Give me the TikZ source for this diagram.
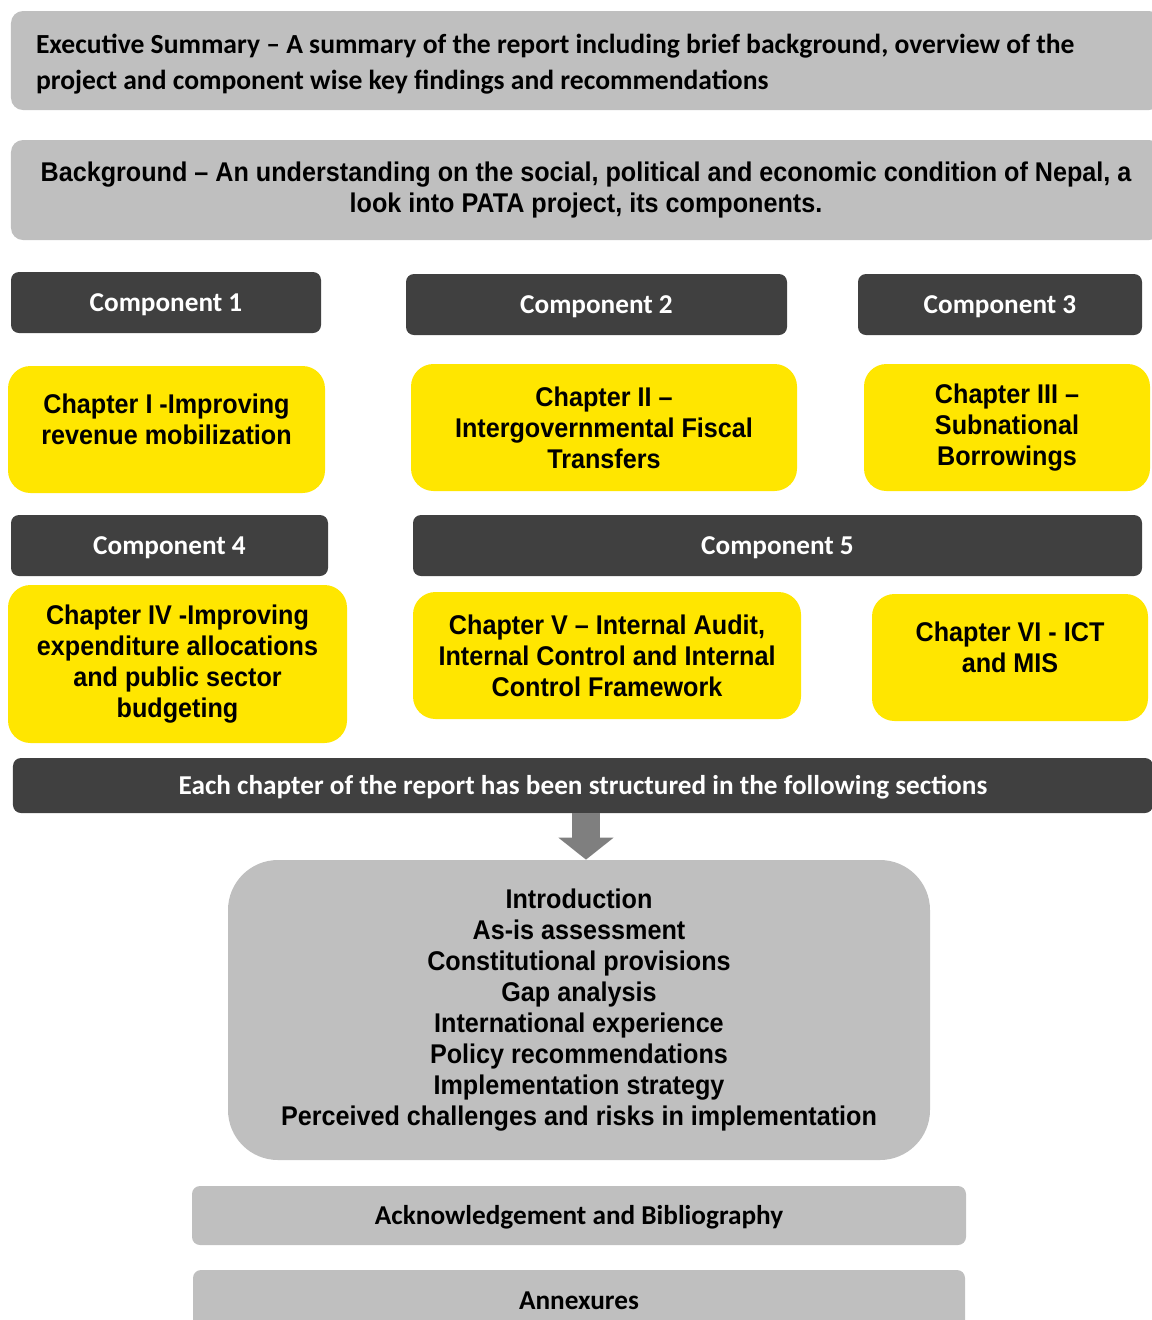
\documentclass[tikz,border=0pt]{standalone}
\usepackage{fontspec}
\usetikzlibrary{arrows.meta}
\newfontfamily\arialb[FakeStretch=0.93]{Liberation Sans}
\newfontfamily\calb{Carlito}
\definecolor{boxgray}{HTML}{BFBFBF}
\definecolor{darkbar}{HTML}{404040}
\definecolor{chapyellow}{HTML}{FFE600}
\definecolor{arrowgray}{HTML}{7F7F7F}

\begin{document}
\begin{tikzpicture}[
  graybox/.style={fill=boxgray, rounded corners=0.24cm, inner sep=0pt, align=center},
  compbox/.style={fill=darkbar, rounded corners=0.16cm, minimum height=1.22cm, inner sep=0pt,
    text height=0.35cm, text depth=0cm, text=white, font=\calb\bfseries\fontsize{15.5}{18}\selectfont},
  chapbox/.style={fill=chapyellow, rounded corners=0.45cm, minimum height=2.54cm, inner sep=0pt,
    align=center, font=\arialb\bfseries\fontsize{15.4}{17.6}\selectfont},
  lift/.style={text depth=0.4cm},
  listfont/.style={font=\arialb\bfseries\fontsize{15.4}{17.6}\selectfont}]
\useasboundingbox (0,0) rectangle (23.02,-26.4);
% top boxes
\node (exec) at (11.72,-1.21) [graybox, minimum width=23cm, minimum height=1.98cm, align=flush left,
  text width=22cm, inner xsep=0.5cm, text height=0.54cm,
  font=\calb\bfseries\fontsize{15.7}{20.5}\selectfont]
  {Executive Summary – A summary of the report including brief background, overview of the\\
   project and component wise key findings and recommendations};
\node (backgr) at (11.72,-3.80) [graybox, minimum width=23cm, minimum height=2cm, listfont]
  {Background – An understanding on the social, political and economic condition of Nepal, a\\
   look into PATA project, its components.};
% components and chapters
\node (comp1) at (3.32,-6.05) [compbox, minimum width=6.2cm] {Component 1};
\node (comp2) at (11.93,-6.09) [compbox, minimum width=7.62cm] {Component 2};
\node (comp3) at (20.0,-6.09) [compbox, minimum width=5.68cm] {Component 3};
\node (chap1) at (3.33,-8.59) [chapbox, lift, minimum width=6.34cm] {Chapter I -Improving\\revenue mobilization};
\node (chap2) at (12.08,-8.55) [chapbox, minimum width=7.72cm] {Chapter II –\\Intergovernmental Fiscal\\Transfers};
\node (chap3) at (20.14,-8.55) [chapbox, minimum width=5.72cm] {Chapter III –\\Subnational\\Borrowings};
\node (comp4) at (3.39,-10.91) [compbox, minimum width=6.34cm] {Component 4};
\node (comp5) at (15.55,-10.91) [compbox, minimum width=14.58cm] {Component 5};
\node (chap4) at (3.55,-13.28) [chapbox, minimum width=6.78cm, minimum height=3.16cm]
  {Chapter IV -Improving\\expenditure allocations\\and public sector\\budgeting};
\node (chap5) at (12.14,-13.11) [chapbox, minimum width=7.76cm]
  {Chapter V – Internal Audit,\\Internal Control and Internal\\Control Framework};
\node (chap6) at (20.2,-13.15) [chapbox, lift, minimum width=5.52cm] {Chapter VI - ICT\\and MIS};
% sections
\node (secbar) at (11.66,-15.71) [compbox, minimum width=22.8cm, minimum height=1.1cm]
  {Each chapter of the report has been structured in the following sections};
\node (sections) at (11.58,-20.2) [graybox, rounded corners=1cm, minimum width=14.04cm,
  minimum height=6cm, listfont]
  {Introduction\\As-is assessment\\Constitutional provisions\\Gap analysis\\International experience\\
   Policy recommendations\\Implementation strategy\\Perceived challenges and risks in implementation};
\coordinate (tip) at (11.72,-17.2);
\draw[arrowgray, line width=0.56cm, -{Triangle[length=0.44cm, width=1.08cm]}]
  (secbar.south -| tip) -- (sections.north -| tip);
\node (ack) at (11.58,-24.31) [graybox, rounded corners=0.16cm, minimum width=15.48cm,
  minimum height=1.18cm, text height=0.35cm, text depth=0cm,
  font=\calb\bfseries\fontsize{15.5}{18}\selectfont] {Acknowledgement and Bibliography};
\node (annex) at (11.58,-26.02) [graybox, rounded corners=0.16cm, minimum width=15.44cm,
  minimum height=1.24cm, text height=0.35cm, text depth=0cm,
  font=\calb\bfseries\fontsize{15.5}{18}\selectfont] {Annexures};
\end{tikzpicture}
\end{document}
